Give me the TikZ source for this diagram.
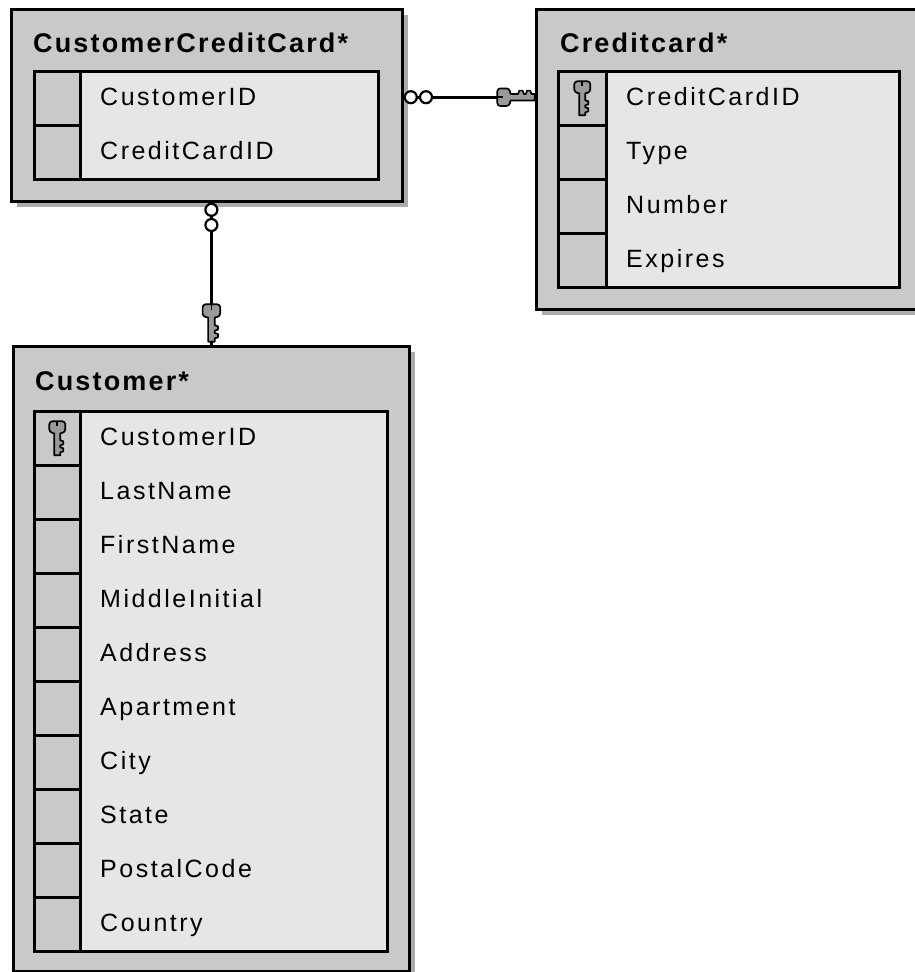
\documentclass[tikz,border=0pt]{standalone}
\usepackage{fontspec}
\setmainfont{Liberation Sans}
\newfontfamily\rowfont{Liberation Sans}[LetterSpace=10]
\newfontfamily\headfont{Liberation Sans}[LetterSpace=8]
\usetikzlibrary{positioning,shadows}
\definecolor{boxgray}{HTML}{C9C9C9}
\definecolor{fieldgray}{HTML}{E6E6E6}
\definecolor{shadowgray}{HTML}{ABABAB}
\definecolor{keygray}{HTML}{9A9A9A}

\tikzset{
  tablebox/.style={draw, line width=2.8pt, fill=boxgray, inner sep=0pt, anchor=north west,
    drop shadow={shadow xshift=6pt, shadow yshift=-6pt, fill=shadowgray, opacity=1}},
  tabletitle/.style={anchor=base west, inner sep=0pt, font=\headfont\bfseries\fontsize{27}{31}\selectfont},
  fieldarea/.style={draw, line width=2.6pt, fill=fieldgray, inner sep=0pt, anchor=north west},
  keycell/.style={draw, line width=2.6pt, fill=boxgray, inner sep=0pt, anchor=north west, minimum height=54pt},
  fieldtext/.style={anchor=north west, minimum height=54pt, inner xsep=21pt, inner ysep=0pt,
    align=left, text height=17pt, text depth=0pt, font=\rowfont\fontsize{25}{29}\selectfont},
  relline/.style={line width=3.4pt},
  zerocirc/.style={circle, draw, line width=2.2pt, fill=white, minimum size=12pt, inner sep=0pt},
  keyicon/.pic={
    \filldraw[fill=keygray, line width=1.7pt, line join=round]
      (-3,17) -- (-3,-5) [rounded corners=3pt] -- (-8,-6) -- (-8,-17) -- (8,-17) -- (8,-6)
      [sharp corners] -- (3,-5) -- (3,2) -- (6,3) -- (6,6) -- (3,7) -- (3,9) -- (6,10)
      -- (6,13) -- (3,14) -- (3,17) -- cycle;
    \draw[line width=1.7pt] (0,-17) -- (0,-12);
  }
}

\begin{document}
\begin{tikzpicture}[x=1pt,y=-1pt]
  \fill[white] (0,0) rectangle (914,972);
  \useasboundingbox (0,0) rectangle (914,972);

  % CustomerCreditCard table
  \node[tablebox, minimum width=391pt, minimum height=192pt] (ccc) at (10,8) {};
  \node[tabletitle] (ccc-title) at (33,52) {CustomerCreditCard*};
  \node[fieldarea, minimum width=344pt, minimum height=108pt] (ccc-f) at (33,70) {};
  \foreach \f [count=\i] in {CustomerID,CreditCardID} {
    \node[keycell, minimum width=46pt] (ccc-k\i) at (33,{70+54*(\i-1)}) {};
    \node[fieldtext] (ccc-\i) at (79,{70+54*(\i-1)}) {\f};
  }

  % Creditcard table
  \node[tablebox, minimum width=400pt, minimum height=300pt] (cc) at (535,8) {};
  \node[tabletitle] (cc-title) at (560,52) {Creditcard*};
  \node[fieldarea, minimum width=341pt, minimum height=216pt] (cc-f) at (557,70) {};
  \foreach \f [count=\i] in {CreditCardID,Type,Number,Expires} {
    \node[keycell, minimum width=48pt] (cc-k\i) at (557,{70+54*(\i-1)}) {};
    \node[fieldtext] (cc-\i) at (605,{70+54*(\i-1)}) {\f};
  }
  \pic at (cc-k1) {keyicon};

  % Customer table
  \node[tablebox, minimum width=396pt, minimum height=625pt] (cust) at (12,345) {};
  \node[tabletitle] (cust-title) at (35,390) {Customer*};
  \node[fieldarea, minimum width=353pt, minimum height=540pt] (cust-f) at (33,410) {};
  \foreach \f [count=\i] in {CustomerID,LastName,FirstName,MiddleInitial,Address,
      Apartment,City,State,PostalCode,Country} {
    \node[keycell, minimum width=46pt] (cust-k\i) at (33,{410+54*(\i-1)}) {};
    \node[fieldtext] (cust-\i) at (79,{410+54*(\i-1)}) {\f};
  }
  \pic at (cust-k1) {keyicon};

  % relationships
  \draw[relline] (ccc.east |- ccc-1) -- (cc.west |- ccc-1);
  \node[zerocirc] (h1) at ([xshift=7pt]ccc.east |- ccc-1) {};
  \node[zerocirc, right=1pt of h1] (h2) {};
  \pic[rotate=90, scale=1.1] at ([xshift=-19pt]cc.west |- ccc-1) {keyicon};

  \draw[relline] (ccc.south -| cust.north) -- (cust.north);
  \node[zerocirc] (v1) at ([yshift=-7pt]ccc.south -| cust.north) {};
  \node[zerocirc, below=1pt of v1] (v2) {};
  \pic[scale=1.1] at ([yshift=22pt]cust.north) {keyicon};
\end{tikzpicture}
\end{document}
